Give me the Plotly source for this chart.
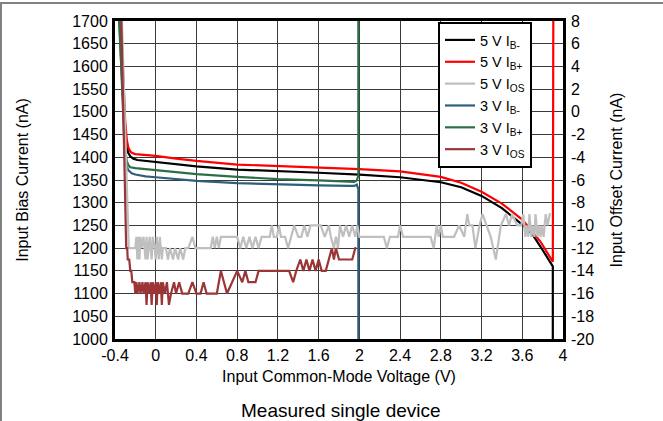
import plotly.graph_objects as go

# ---------------- data ----------------
x_ticks = [-0.4, 0, 0.4, 0.8, 1.2, 1.6, 2, 2.4, 2.8, 3.2, 3.6, 4]
x_ticktext = ["-0.4", "0", "0.4", "0.8", "1.2", "1.6", "2", "2.4", "2.8", "3.2", "3.6", "4"]
y_ticks = list(range(1000, 1701, 50))
y2_ticks = list(range(-20, 9, 2))
y2_ticktext = [str(v) for v in y2_ticks]

# 5 V IB- (black)
b5m_x = [-0.355, -0.30, -0.285, -0.27, -0.25, -0.22, -0.18, -0.1, 0.0, 0.2, 0.4, 0.8, 1.2, 1.6,
         2.0, 2.4, 2.8, 3.0, 3.2, 3.4, 3.6, 3.7, 3.78, 3.89, 3.9, 3.9]
b5m_y = [1720, 1460, 1425, 1410, 1402, 1397, 1394, 1392, 1390, 1385, 1380, 1373, 1370, 1366,
         1362, 1356, 1345, 1334, 1315, 1288, 1252, 1230, 1203, 1163, 1160, 990]

# 5 V IB+ (red)
b5p_x = [-0.345, -0.30, -0.285, -0.27, -0.25, -0.236, -0.2, -0.1, 0.0, 0.2, 0.4, 0.8, 1.2, 1.6,
         2.0, 2.4, 2.8, 3.0, 3.2, 3.4, 3.6, 3.78, 3.9, 3.905]
b5p_y = [1720, 1480, 1440, 1422, 1413, 1410, 1407, 1405, 1403, 1397, 1392, 1384, 1381, 1378,
         1374, 1369, 1357, 1344, 1324, 1298, 1263, 1214, 1170, 1720]

# 5 V IOS (gray, right axis)
os5_x = [-0.335, -0.29, -0.275, -0.265, -0.24, -0.2, -0.19, -0.18, -0.17, -0.16, -0.15, -0.14, -0.12,
         -0.1, -0.09, -0.08, -0.06, -0.04, -0.03, -0.01, 0.0, 0.01, 0.03, 0.04, 0.06, 0.07, 0.1, 0.12,
         0.14, 0.17, 0.19, 0.22, 0.24, 0.27, 0.29, 0.32, 0.36, 0.39, 0.54, 0.56, 0.58, 0.6, 0.62, 0.64,
         0.66, 0.8, 0.83, 0.86, 0.89, 0.92, 0.95, 0.98, 1.01, 1.04, 1.06, 1.12, 1.14, 1.16, 1.19, 1.21,
         1.23, 1.27, 1.30, 1.33, 1.36, 1.40, 1.43, 1.46, 1.49, 1.52, 1.55, 1.58, 1.62, 1.66, 1.70,
         1.72, 1.75, 1.77, 1.79, 1.81, 1.84, 1.87, 1.90, 1.93, 1.96, 1.98, 2.0, 2.24, 2.27, 2.30, 2.33,
         2.38, 2.40, 2.43, 2.70, 2.73, 2.76, 2.78, 2.80, 2.82, 2.93, 2.98, 3.03, 3.06, 3.08, 3.11, 3.14,
         3.18, 3.21, 3.25, 3.29, 3.34, 3.39, 3.44, 3.47, 3.50, 3.55, 3.59, 3.61, 3.63, 3.64, 3.66, 3.67,
         3.69, 3.70, 3.72, 3.73, 3.75, 3.76, 3.78, 3.79, 3.81, 3.83, 3.85, 3.87, 3.88]
os5_y = [9, -6, -10, -12, -12, -12, -11, -13, -11, -13, -11, -12, -11,
         -13, -11, -13, -11, -13, -11, -12, -13, -11, -13, -11, -13, -12, -12, -13,
         -12, -13, -12, -13, -12, -13, -12, -12, -11, -12, -12, -11, -12, -11, -12, -11,
         -11, -11, -12, -11, -12, -11, -12, -11, -12, -11, -11, -11, -10, -11, -11, -10,
         -11, -11, -12, -11, -10, -11, -11, -10, -11, -10, -10, -10, -10, -11, -10,
         -11, -12, -11, -12, -10, -11, -10, -11, -10, -11, -10, -11, -11, -12, -11, -11,
         -11, -10, -11, -11, -12, -10, -11, -10, -11, -11, -10, -11, -9, -10, -10, -12,
         -10, -9, -10, -11, -13, -10, -9, -10, -9, -10, -10, -9, -11, -10, -11, -9,
         -11, -10, -11, -9, -11, -10, -11, -10, -11, -9, -10, -9, -9]

# 3 V IB- (blue)
b3m_x = [-0.36, -0.31, -0.295, -0.285, -0.27, -0.25, -0.236, -0.2, -0.1, 0.0, 0.2, 0.4, 0.8, 1.2,
         1.6, 1.9, 1.95, 1.975, 1.99, 1.99]
b3m_y = [1720, 1440, 1400, 1380, 1372, 1367, 1365, 1362, 1358, 1356, 1352, 1348, 1343, 1340,
         1338, 1337, 1337, 1340, 1330, 990]

# 3 V IB+ (green)
b3p_x = [-0.365, -0.31, -0.295, -0.285, -0.27, -0.25, -0.2, -0.1, 0.0, 0.2, 0.4, 0.8, 1.2,
         1.6, 1.9, 1.95, 1.975, 1.99, 1.99]
b3p_y = [1720, 1450, 1410, 1392, 1383, 1378, 1376, 1374, 1372, 1367, 1363, 1357, 1352,
         1349, 1347, 1346, 1349, 1360, 1720]

# 3 V IOS (brown, right axis)
os3_x = [-0.34, -0.30, -0.29, -0.28, -0.275, -0.26, -0.25, -0.24, -0.23, -0.21, -0.2, -0.19, -0.18,
         -0.16, -0.15, -0.13, -0.12, -0.1, -0.09, -0.08, -0.06, -0.05, -0.04, -0.03, -0.01, 0.0, 0.01,
         0.02, 0.04, 0.05, 0.06, 0.07, 0.09, 0.11, 0.13, 0.15, 0.18, 0.2, 0.23, 0.26, 0.29, 0.32,
         0.36, 0.40, 0.44, 0.47, 0.50, 0.60, 0.62, 0.64, 0.67, 0.70, 0.75, 0.80, 0.85, 0.88, 0.91,
         0.98, 1.01, 1.31, 1.35, 1.38, 1.42, 1.45, 1.48, 1.51, 1.54, 1.57, 1.60, 1.63, 1.67, 1.70,
         1.73, 1.75, 1.77, 1.80, 1.93, 1.96, 1.97]
os3_y = [9, -8.6, -12, -12, -13, -13, -14, -14, -15, -15, -16, -15, -16,
         -15, -16, -15, -16, -15, -17, -15, -16, -15, -17, -15, -16, -15, -17,
         -15, -16, -15, -17, -15, -16, -15, -17, -16, -15, -16, -15, -16, -16, -16,
         -15, -16, -16, -15, -16, -16, -15, -14, -15, -16, -15, -14, -15, -14, -15,
         -15, -14, -14, -15, -14, -13, -14, -13, -14, -13, -14, -13, -14, -14, -13,
         -12, -13, -12, -13, -13, -12, -12]

# ---------------- figure ----------------
FONT = "Liberation Sans, Arial, Helvetica, sans-serif"
W, H = 663, 421
ML, MR, MT, MB = 115, 100, 21, 82
PW, PH = W - ML - MR, H - MT - MB

def px_x(px):
    return (px - ML) / PW

def px_y(py):
    return (H - MB - py) / PH

fig = go.Figure()
series = [
    ("5 V I<sub>B-</sub>", b5m_x, b5m_y, "#000000", "y"),
    ("5 V I<sub>B+</sub>", b5p_x, b5p_y, "#ff0000", "y"),
    ("5 V I<sub>OS</sub>", os5_x, os5_y, "#bfbfbf", "y2"),
    ("3 V I<sub>B-</sub>", b3m_x, b3m_y, "#2d5f7d", "y"),
    ("3 V I<sub>B+</sub>", b3p_x, b3p_y, "#2d6e47", "y"),
    ("3 V I<sub>OS</sub>", os3_x, os3_y, "#9c3535", "y2"),
]
for name, xs, ys, col, yax in series:
    fig.add_trace(go.Scatter(x=xs, y=ys, name=name, mode="lines", yaxis=yax,
                             line=dict(color=col, width=2.2)))

grid_col = "#3a3a3a"
fig.update_layout(
    width=W, height=H,
    margin=dict(l=ML, r=MR, t=MT, b=MB),
    paper_bgcolor="white", plot_bgcolor="white",
    font=dict(family=FONT, size=16, color="black"),
    showlegend=True,
    legend=dict(x=px_x(438), y=px_y(22), xanchor="left", yanchor="top",
                bgcolor="white", bordercolor="black", borderwidth=2,
                font=dict(size=14.5), tracegroupgap=0, itemwidth=30),
    xaxis=dict(range=[-0.4, 4], tickvals=x_ticks, ticktext=x_ticktext,
               showgrid=True, gridcolor=grid_col, gridwidth=1,
               showline=True, linecolor="black", linewidth=3, mirror=True,
               zeroline=False, ticks="", tickfont=dict(size=16),
               title=dict(text="Input Common-Mode Voltage (V)", standoff=8, font=dict(size=16))),
    yaxis=dict(range=[1000, 1700], tickvals=y_ticks,
               showgrid=True, gridcolor=grid_col, gridwidth=1,
               showline=True, linecolor="black", linewidth=3, mirror=True,
               zeroline=False, ticks="", ticklabelstandoff=1, tickfont=dict(size=16),
               title=dict(text="Input Bias Current (nA)", standoff=40, font=dict(size=16))),
    yaxis2=dict(range=[-20, 8], tickvals=y2_ticks, ticktext=y2_ticktext,
                overlaying="y", side="right", showgrid=False, zeroline=False,
                showline=False, ticks="", ticklabelstandoff=7, tickfont=dict(size=16),
                title=dict(text="Input Offset Current (nA)", standoff=17, font=dict(size=16))),
    annotations=[dict(text="Measured single device", xref="paper", yref="paper",
                      x=px_x(341), y=px_y(410), xanchor="center", yanchor="middle",
                      showarrow=False, font=dict(size=19, family=FONT))],
    shapes=[
        dict(type="line", xref="paper", yref="paper", x0=px_x(0), x1=px_x(W),
             y0=px_y(3), y1=px_y(3), line=dict(color="#808080", width=2)),
        dict(type="line", xref="paper", yref="paper", x0=px_x(1), x1=px_x(1),
             y0=px_y(3), y1=px_y(H), line=dict(color="#808080", width=2)),
    ],
)
fig.update_xaxes(automargin=False)
fig.update_yaxes(automargin=False)

fig.write_html("out.html", config={"displayModeBar": False},
               post_script="document.body.style.margin='0px';document.body.style.overflow='hidden';")
